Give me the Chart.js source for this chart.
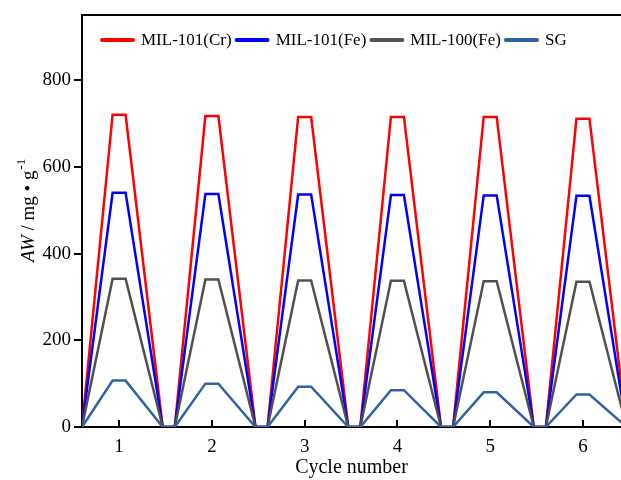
<!DOCTYPE html>
<html>
<head>
<meta charset="utf-8">
<script src="https://cdn.jsdelivr.net/npm/chart.js@4.4.1/dist/chart.umd.min.js"></script>
<style>
  html, body { margin: 0; padding: 0; background: #fff; overflow: hidden; }
  #wrap { width: 621px; height: 480px; }
</style>
</head>
<body>
<div id="wrap"><canvas id="lineChart"></canvas></div>
<script>
// x positions of each point (cycle number axis)
const xPos = [0.6, 0.93, 1.07, 1.47, 1.6, 1.93, 2.07, 2.47, 2.6, 2.93, 3.07, 3.47,
              3.6, 3.93, 4.07, 4.47, 4.6, 4.93, 5.07, 5.47, 5.6, 5.93, 6.07, 6.47];
const cr101 = [0, 720, 720, 0, 0, 717, 717, 0, 0, 715, 715, 0, 0, 715, 715, 0, 0, 715, 715, 0, 0, 711, 711, 0];
const fe101 = [0, 540, 540, 0, 0, 537, 537, 0, 0, 536, 536, 0, 0, 535, 535, 0, 0, 534, 534, 0, 0, 533, 533, 0];
const fe100 = [0, 342, 342, 0, 0, 340, 340, 0, 0, 338, 338, 0, 0, 337, 337, 0, 0, 336, 336, 0, 0, 335, 335, 0];
const sg    = [0, 107, 107, 0, 0, 100, 100, 0, 0, 93, 93, 0, 0, 85, 85, 0, 0, 80, 80, 0, 0, 75, 75, 0];
const seriesNames = ['MIL-101(Cr)', 'MIL-101(Fe)', 'MIL-100(Fe)', 'SG'];
const colors = ['#ff0000', '#0000ff', '#505050', '#2f63a3'];
const xTicks = [1, 2, 3, 4, 5, 6];
const yTicks = [0, 200, 400, 600, 800];

const serif = '"Liberation Serif", "Times New Roman", serif';

function pts(vals) {
  return vals.map((v, i) => ({ x: xPos[i], y: v }));
}

// legend, y title, inward x ticks, top frame line
const extras = {
  id: 'extras',
  afterDraw(chart) {
    const c = chart.ctx;
    const a = chart.chartArea;
    const xs = chart.scales.x;
    c.save();
    c.strokeStyle = '#000';
    c.lineWidth = 2;
    c.beginPath();
    c.moveTo(a.left - 1, a.top);
    c.lineTo(a.right, a.top);
    c.stroke();
    xTicks.forEach(t => {
      const px = Math.round(xs.getPixelForValue(t));
      c.beginPath();
      c.moveTo(px, a.bottom);
      c.lineTo(px, a.bottom - 7);
      c.stroke();
    });

    // legend
    c.font = '17px ' + serif;
    c.textBaseline = 'middle';
    let x = a.left + 18;
    const y = a.top + 25;
    seriesNames.forEach((n, i) => {
      c.strokeStyle = colors[i];
      c.lineWidth = 4;
      c.lineCap = 'round';
      c.beginPath();
      c.moveTo(x + 2, y);
      c.lineTo(x + 33, y);
      c.stroke();
      c.fillStyle = '#000';
      c.fillText(n, x + 41, y + 1);
      x += 41 + c.measureText(n).width + 3;
    });

    // y axis title
    c.translate(34, 262);
    c.rotate(-Math.PI / 2);
    c.textBaseline = 'alphabetic';
    c.fillStyle = '#000';
    let tx = 0;
    c.font = 'italic 19px ' + serif;
    c.fillText('AW', tx, 0);
    tx += c.measureText('AW').width;
    c.font = '19px ' + serif;
    const mid = ' / mg \u2022 g';
    c.fillText(mid, tx, 0);
    tx += c.measureText(mid).width;
    c.font = '13px ' + serif;
    c.fillText('-1', tx + 1, -9);
    c.restore();
  }
};

const ctx = document.getElementById('lineChart');
new Chart(ctx, {
  type: 'line',
  data: {
    datasets: seriesNames.map((n, i) => ({
      label: n,
      data: pts([cr101, fe101, fe100, sg][i]),
      borderColor: colors[i],
      backgroundColor: colors[i],
      borderWidth: 2.5,
      pointRadius: 0,
      tension: 0,
      order: 4 - i
    }))
  },
  plugins: [extras],
  options: {
    responsive: true,
    maintainAspectRatio: false,
    animation: false,
    layout: { padding: { top: 15, right: 0, left: 0, bottom: 0 } },
    plugins: {
      legend: { display: false },
      tooltip: { enabled: false }
    },
    scales: {
      x: {
        type: 'linear',
        min: 0.6,
        max: 6.41,
        afterBuildTicks: s => { s.ticks = xTicks.map(v => ({ value: v })); },
        afterFit: s => { s.height = 53; },
        border: { color: '#000', width: 2 },
        grid: { display: false, drawTicks: false },
        ticks: {
          color: '#000',
          font: { family: serif, size: 19 },
          padding: 9
        },
        title: {
          display: true,
          text: 'Cycle number',
          color: '#000',
          font: { family: serif, size: 20 },
          padding: { top: 0, bottom: 0 }
        }
      },
      y: {
        min: 0,
        max: 950,
        afterBuildTicks: s => { s.ticks = yTicks.map(v => ({ value: v })); },
        afterFit: s => { s.width = 82; },
        border: { color: '#000', width: 2 },
        grid: { drawOnChartArea: false, drawTicks: true, tickLength: 8, color: '#000', lineWidth: 2 },
        ticks: {
          color: '#000',
          font: { family: serif, size: 19 },
          padding: 3
        }
      }
    }
  }
});
</script>
</body>
</html>
